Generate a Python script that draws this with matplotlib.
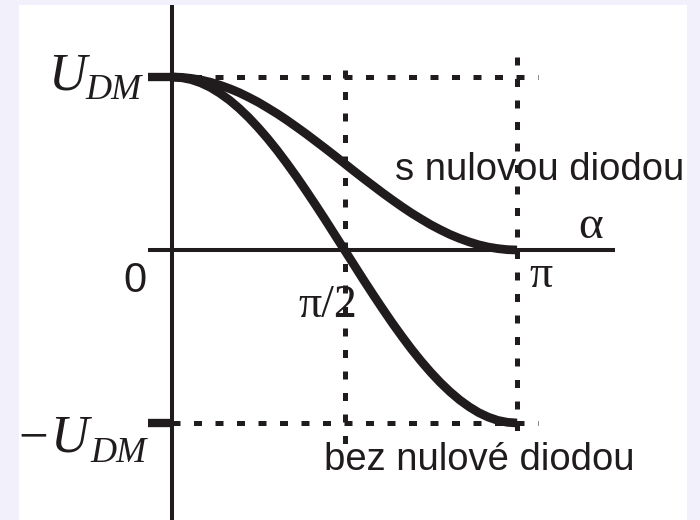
import numpy as np
import matplotlib
matplotlib.use("Agg")
import matplotlib.pyplot as plt
from matplotlib.patches import Rectangle

# Firing angle samples (degrees) and mean rectified voltage, in units of U_DM
alpha_deg = [0, 5, 10, 15, 20, 25, 30, 35, 40, 45, 50, 55, 60, 65, 70, 75, 80, 85, 90,
             95, 100, 105, 110, 115, 120, 125, 130, 135, 140, 145, 150, 155, 160,
             165, 170, 175, 180]
u_with_diode = [1.000, 0.998, 0.992, 0.983, 0.970, 0.953, 0.933, 0.910, 0.883, 0.854,
                0.821, 0.787, 0.750, 0.711, 0.671, 0.629, 0.587, 0.544, 0.500,
                0.456, 0.413, 0.371, 0.329, 0.289, 0.250, 0.213, 0.179, 0.146,
                0.117, 0.090, 0.067, 0.047, 0.030, 0.017, 0.008, 0.002, 0.000]
u_without_diode = [1.000, 0.996, 0.985, 0.966, 0.940, 0.906, 0.866, 0.819, 0.766, 0.707,
                   0.643, 0.574, 0.500, 0.423, 0.342, 0.259, 0.174, 0.087, 0.000,
                   -0.087, -0.174, -0.259, -0.342, -0.423, -0.500, -0.574, -0.643,
                   -0.707, -0.766, -0.819, -0.866, -0.906, -0.940, -0.966, -0.985,
                   -0.996, -1.000]

level_values = [1.0, -1.0]          # +U_DM and -U_DM guide levels
angle_marks = [np.pi / 2, np.pi]    # pi/2 and pi guide angles

label_with = "s nulovou diodou"
label_without = "bez nulové diodou"

INK = "#201c1d"
SERIF = "Liberation Serif"
SANS = "Liberation Sans"

W, H, DPI = 700, 520, 100
fig = plt.figure(figsize=(W / DPI, H / DPI), dpi=DPI, facecolor="#f2f0fa")

ax = fig.add_axes([0, 0, 1, 1])
ax.set_axis_off()
ax.patch.set_alpha(0)

# white drawing sheet
ax.add_patch(Rectangle((19 / W, 0), (687 - 19) / W, (520 - 5) / H,
                       transform=fig.transFigure, facecolor="white",
                       edgecolor="none", zorder=0, clip_on=False))

# scale: pi rad -> 345 px, U_DM -> 173 px, origin at (172, 250) px
kx = np.pi / 345.0
ky = 1 / 173.0
ax.set_xlim(-172 * kx, (W - 172) * kx)
ax.set_ylim(-(H - 250) * ky, 250 * ky)

alpha = np.deg2rad(alpha_deg)

# axes
ax.plot([0, 0], [-2, 245 * ky], color=INK, lw=2.9, solid_capstyle="butt", zorder=2)
ax.plot([-24 * kx, 443 * kx], [0, 0], color=INK, lw=2.9, solid_capstyle="butt", zorder=2)

# dashed guides
dash = (0, (1.6, 2.7))
dlw = 3.6
for lv in level_values:
    ax.plot([0, 366 * kx], [lv, lv], color=INK, lw=dlw, linestyle=dash,
            dash_capstyle="butt", zorder=3)
ax.plot([angle_marks[0]] * 2, [180 * ky, -197 * ky], color=INK, lw=dlw,
        linestyle=dash, dash_capstyle="butt", zorder=3)
ax.plot([angle_marks[1]] * 2, [193 * ky, -185 * ky], color=INK, lw=dlw,
        linestyle=dash, dash_capstyle="butt", zorder=3)

# level ticks on the vertical axis
for lv in level_values:
    ax.plot([-24 * kx, 0], [lv, lv], color=INK, lw=6.0, solid_capstyle="butt", zorder=4)

# curves
ax.plot(alpha, u_with_diode, color=INK, lw=6.3, solid_capstyle="butt",
        solid_joinstyle="round", zorder=5)
ax.plot(alpha, u_without_diode, color=INK, lw=6.3, solid_capstyle="butt",
        solid_joinstyle="round", zorder=5)

# labels
def px(x, y):
    return ((x - 172) * kx, (250 - y) * ky)

ax.text(*px(48, 90), "U", family=SERIF, style="italic", fontsize=38,
        color=INK, ha="left", va="baseline")
ax.text(*px(142, 99), "DM", family=SERIF, style="italic", fontsize=26,
        color=INK, ha="right", va="baseline")
ax.text(*px(33, 452), "\u2212", family=SERIF, fontsize=38,
        color=INK, ha="center", va="baseline")
ax.text(*px(50, 452), "U", family=SERIF, style="italic", fontsize=38,
        color=INK, ha="left", va="baseline")
ax.text(*px(147, 462), "DM", family=SERIF, style="italic", fontsize=26,
        color=INK, ha="right", va="baseline")

ax.text(*px(135, 292), "0", family=SANS, fontsize=30, color=INK,
        ha="center", va="baseline")
ax.text(*px(328, 317), "π/2", family=SERIF, fontsize=33, color=INK,
        ha="center", va="baseline", zorder=1)
ax.text(*px(541, 287), "π", family=SERIF, fontsize=33, color=INK,
        ha="center", va="baseline")
ax.text(*px(591, 238), "α", family=SERIF, fontsize=34, color=INK,
        ha="center", va="baseline")

ax.text(*px(540, 180), label_with, family=SANS, fontsize=27.5, color=INK,
        ha="center", va="baseline")
ax.text(*px(479, 470), label_without, family=SANS, fontsize=27.5, color=INK,
        ha="center", va="baseline")

fig.savefig("out.png", dpi=DPI, facecolor=fig.get_facecolor())
